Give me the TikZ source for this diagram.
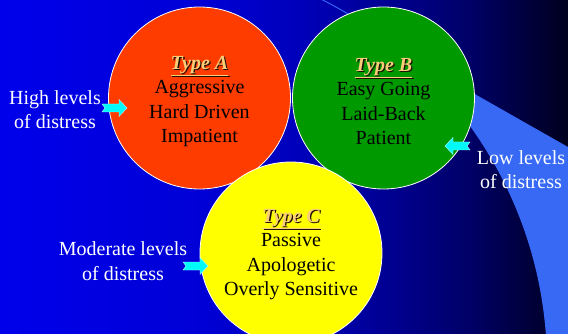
\documentclass[tikz,border=0pt]{standalone}
\usepackage{fontspec}
\setmainfont{Liberation Serif}
\definecolor{redA}{RGB}{255,60,0}
\definecolor{greenB}{RGB}{0,153,0}
\definecolor{yellowC}{RGB}{255,255,0}
\definecolor{goldT}{RGB}{250,205,120}
\definecolor{shadowT}{RGB}{30,15,0}
\definecolor{swooshc}{RGB}{55,105,245}
\definecolor{arrowc}{RGB}{0,250,250}
\pgfdeclarehorizontalshading{bgshade}{100bp}{rgb(0bp)=(0,0,0.92); rgb(25bp)=(0,0,0.92); rgb(42.6bp)=(0,0,0.84); rgb(51.4bp)=(0,0,0.73); rgb(60.2bp)=(0,0,0.55); rgb(66.4bp)=(0,0,0.40); rgb(72.5bp)=(0,0,0.2); rgb(75bp)=(0,0,0.12); rgb(100bp)=(0,0,0.12)}
\newcommand{\typelabel}[1]{\textbf{\textit{\makebox[0pt][l]{\hspace{1.3pt}\raisebox{-1.3pt}{\color{shadowT}\underline{#1}}}\color{goldT}\underline{#1}}}}
\tikzset{
  bubble/.style={circle, draw=white, line width=0.8pt, minimum size=182pt, inner sep=0pt},
  btext/.style={align=center, text=black, inner sep=0pt, font=\fontsize{20}{24.5}\selectfont},
  lbl/.style={align=center, text=white, inner sep=0pt, font=\fontsize{20}{24.5}\selectfont},
  pics/notcharrow/.style={code={\filldraw[fill=arrowc, draw=white!70!arrowc, line width=0.4pt] (0,-4) -- (17,-4) -- (17,-8.5) -- (25,0) -- (17,8.5) -- (17,4) -- (0,4) -- (3,0) -- cycle;}}
}
\begin{document}
\begin{tikzpicture}[x=1pt,y=-1pt]
\useasboundingbox (0,0) rectangle (568,334);
\shade[shading=bgshade] (0,0) rectangle (568,334);
% swoosh
\begin{scope}
\clip (380,40.2) -- (568,147) -- (568,334) -- (380,334) -- cycle;
\fill[swooshc, even odd rule] (300,0) rectangle (568,334) (138,365) circle[radius=409];
\end{scope}
\begin{scope}
\clip (300,0) rectangle (420,60);
\draw[swooshc, line width=0.9pt] (138,365) circle[radius=409];
\end{scope}
% circles
\node[bubble, fill=redA] (A) at (199.5,98) {};
\node[bubble, fill=greenB] (B) at (383.5,98) {};
\node[bubble, fill=yellowC] (C) at (291,253) {};
\node[btext] (At) at ([yshift=-3.5pt]A.center) {\typelabel{Type A}\\Aggressive\\Hard Driven\\Impatient};
\node[btext] (Bt) at ([yshift=-3.5pt]B.center) {\typelabel{Type B}\\Easy Going\\Laid-Back\\Patient};
\node[btext] (Ct) at ([yshift=-1.5pt]C.center) {\typelabel{Type C}\\Passive\\Apologetic\\Overly Sensitive};
% labels
\node[lbl] (hi) at (55,109.5) {High levels\\of distress};
\node[lbl] (lo) at (521,169.5) {Low levels\\of distress};
\node[lbl] (mo) at (123,261) {Moderate levels\\of distress};
% arrows
\coordinate (hiT) at (102,108);
\coordinate (loT) at (470,146);
\coordinate (moT) at (183,266);
\pic at (hiT) {notcharrow};
\pic[rotate=180] at (loT) {notcharrow};
\pic at (moT) {notcharrow};
\end{tikzpicture}
\end{document}
